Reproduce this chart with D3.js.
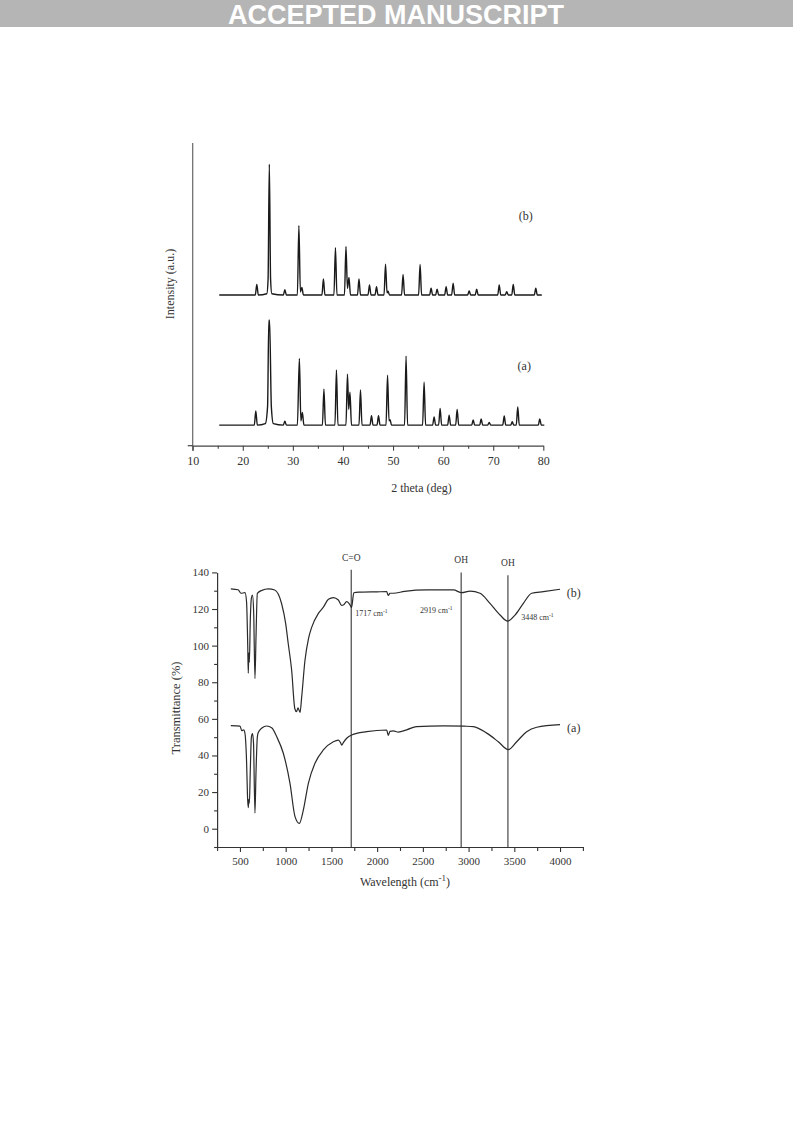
<!DOCTYPE html>
<html>
<head>
<meta charset="utf-8">
<script src="https://cdn.jsdelivr.net/npm/d3@7"></script>
<style>
  html, body { margin: 0; padding: 0; background: #fff; }
  svg { display: block; }
  text { font-family: "Liberation Serif", "DejaVu Serif", serif; fill: #333; }
</style>
</head>
<body>
<svg id="chart" width="793" height="1123"></svg>
<script>
// ---------------- DATA ----------------
// XRD: 2 theta (deg) vs intensity (a.u.)
const xrdTicks = [10, 20, 30, 40, 50, 60, 70, 80];
const xrdMinorTicks = [15, 25, 35, 45, 55, 65, 75];
const xrdA = [
  [15.3,6.8],[22.3,6.8],[22.6,11.5],[22.9,6.8],
  [24.5,7.3],[24.95,13],[25.2,41.5],[25.35,41.5],[25.7,13],[26.1,7.3],
  [28.1,6.8],[28.4,8.1],[28.7,6.8],
  [30.9,6.8],[31.3,28.8],[31.6,8.2],[31.9,11.0],[32.2,6.8],
  [35.9,6.8],[36.2,18.7],[36.5,6.8],
  [38.4,6.8],[38.7,25.0],[39.0,6.8],
  [40.6,6.8],[40.9,23.6],[41.15,12],[41.4,17.7],[41.7,6.8],
  [43.2,6.8],[43.5,18.4],[43.8,6.8],
  [45.4,6.8],[45.7,9.9],[46.0,6.8],
  [46.8,6.8],[47.1,9.9],[47.4,6.8],
  [48.6,6.8],[48.9,23.3],[49.2,8.2],[49.4,8.6],[49.7,6.8],
  [52.3,6.8],[52.6,29.6],[52.9,6.8],
  [55.9,6.8],[56.2,21.0],[56.5,6.8],
  [57.9,6.8],[58.2,9.5],[58.5,6.8],
  [59.1,6.8],[59.4,12.3],[59.7,6.8],
  [60.9,6.8],[61.2,10.1],[61.5,6.8],
  [62.5,6.8],[62.8,12.0],[63.1,6.8],
  [65.7,6.8],[66.0,8.5],[66.3,6.8],
  [67.3,6.8],[67.6,8.8],[67.9,6.8],
  [68.9,6.8],[69.2,7.7],[69.5,6.8],
  [71.9,6.8],[72.2,9.8],[72.5,6.8],
  [73.5,6.8],[73.8,7.9],[74.1,6.8],
  [74.6,6.8],[74.9,12.8],[75.2,6.8],
  [79.0,6.8],[79.3,8.8],[79.6,6.8],[80.2,6.8]
];
const xrdB = [
  [15.3,49.8],[22.5,49.8],[22.8,53.3],[23.1,49.8],
  [24.8,50.2],[25.05,55],[25.3,93.0],[25.55,55],[25.8,50.2],
  [28.1,49.8],[28.4,51.5],[28.7,49.8],
  [30.9,49.8],[31.2,72.7],[31.5,50.8],[31.8,52.3],[32.1,49.8],
  [35.8,49.8],[36.1,55.1],[36.4,49.8],
  [38.2,49.8],[38.5,65.4],[38.8,49.8],
  [40.3,49.8],[40.6,65.8],[40.9,52],[41.2,55.6],[41.5,49.8],
  [42.9,49.8],[43.2,55.1],[43.5,49.8],
  [45.0,49.8],[45.3,53.1],[45.6,49.8],
  [46.4,49.8],[46.7,52.5],[47.0,49.8],
  [48.2,49.8],[48.5,60.0],[48.8,50.5],[49.0,51],[49.3,49.8],
  [51.7,49.8],[52.0,56.6],[52.3,49.8],
  [55.1,49.8],[55.4,59.9],[55.7,49.8],
  [57.3,49.8],[57.6,52.0],[57.9,49.8],
  [58.5,49.8],[58.8,51.7],[59.1,49.8],
  [60.3,49.8],[60.6,52.5],[60.9,49.8],
  [61.7,49.8],[62.0,53.7],[62.3,49.8],
  [64.9,49.8],[65.2,51.1],[65.5,49.8],
  [66.4,49.8],[66.7,51.7],[67.0,49.8],
  [70.9,49.8],[71.2,53.1],[71.5,49.8],
  [72.4,49.8],[72.7,50.9],[73.0,49.8],
  [73.7,49.8],[74.0,53.3],[74.3,49.8],
  [78.2,49.8],[78.5,52.0],[78.8,49.8],[79.7,49.8]
];
const xrdSeriesLabels = [["(b)", 76.5, 76], ["(a)", 76.2, 26.5]];

// FTIR: wavenumber (cm-1) vs transmittance (%)
const ftirXTicks = [500, 1000, 1500, 2000, 2500, 3000, 3500, 4000];
const ftirXMinor = [250, 750, 1250, 1750, 2250, 2750, 3250, 3750, 4250];
const ftirYTicks = [0, 20, 40, 60, 80, 100, 120, 140];
const ftirYMinor = [-10, 10, 30, 50, 70, 90, 110, 130];
const ftirB = [
  [400,131],[480,130.5],[511,128.6],[555,128.9],[572,124],[585,100],[591,85],[597,96],[603,91],
  [612,112],[625,126],[637,127.6],[650,118],[664,82],[676,106],[690,128.5],[740,130.2],
  [810,131],[880,130.4],[955,123],[1000,112],[1028,101],[1065,86.7],[1100,65.5],[1118,63.9],
  [1135,66],[1157,63.5],[1175,72],[1211,92],[1250,104],[1284,110],[1357,117.6],[1412,121],
  [1467,125.3],[1521,126.2],[1576,124.9],[1610,122],[1631,122.2],[1667,124],[1700,122.5],
  [1720,120.8],[1745,128.9],[1800,129.2],[2000,129.4],[2104,129.5],[2122,127.4],[2140,128.6],
  [2177,128.6],[2300,129.6],[2542,130.4],[2834,130.4],[2925,128.9],[3016,129.8],[3125,128.6],
  [3234,123.1],[3344,116.7],[3428,113.4],[3508,116.7],[3599,123.1],[3690,128.6],[3818,129.5],
  [4000,130.8]
];
const ftirA = [
  [400,56.3],[500,56],[520,53.5],[540,54],[555,52],[570,40],[585,15],[591,11.5],[597,16],
  [603,14],[612,30],[625,50],[637,52],[648,47],[664,8.5],[675,30],[690,50],[700,52.5],
  [740,55],[792,56.1],[850,55],[901,50.3],[974,41.2],[1047,24.8],[1102,6.6],[1149,2.9],
  [1193,10.2],[1248,24.8],[1320,35.7],[1412,43],[1521,47.5],[1576,48.4],[1600,47],
  [1613,45.7],[1630,47],[1667,49.4],[1722,51.2],[1886,53],[2104,53.9],[2115,52],[2122,51],
  [2140,53.2],[2177,53.4],[2231,52.8],[2323,54],[2432,55.8],[2723,56.2],[2950,56],
  [3052,55.8],[3198,52.2],[3325,47.5],[3434,43.2],[3526,47.5],[3635,53],[3745,55.4],
  [4000,56.8]
];
const ftirLines = [1717, 2919, 3430];
const ftirLineTops = [141.5, 140, 138.5];
const ftirLineNames = ["C=O", "OH", "OH"];
const ftirPeakLabels = [["1717 cm", 1760, 117.5], ["2919 cm", 2470, 119.5], ["3448 cm", 3575, 115.5]];
const ftirSeriesLabels = [["(b)", 4150, 128.9], ["(a)", 4150, 55]];

// ---------------- DRAW ----------------
const svg = d3.select("#chart");

// banner
svg.append("rect").attr("x", 0).attr("y", 0).attr("width", 793).attr("height", 27).attr("fill", "#b5b5b5");
svg.append("text").attr("x", 396).attr("y", 24).attr("text-anchor", "middle")
  .style("font-family", "'Liberation Sans', Arial, sans-serif").style("font-weight", "bold")
  .style("font-size", "27px").style("fill", "#fff").text("ACCEPTED MANUSCRIPT");

// ===== XRD =====
const xX = d3.scaleLinear().domain([10, 80]).range([192.7, 543.3]);
const xY = d3.scaleLinear().domain([0, 100]).range([445.7, 143]);
const gX = svg.append("g");

gX.append("line").attr("x1", xX(10)).attr("x2", xX(10)).attr("y1", xY(100)).attr("y2", xY(0) + 5)
  .attr("stroke", "#666").attr("stroke-width", 1.2);
const xrdAxis = gX.append("g").attr("transform", `translate(0,${xY(0)})`)
  .call(d3.axisBottom(xX).tickValues(xrdTicks).tickSize(5).tickSizeOuter(0).tickPadding(6).tickFormat(d3.format("d")));
gX.append("g").attr("transform", `translate(0,${xY(0)})`)
  .call(d3.axisBottom(xX).tickValues(xrdMinorTicks).tickSize(3).tickSizeOuter(0).tickFormat(""))
  .select(".domain").remove();
gX.append("line").attr("x1", xX(10) - 5).attr("x2", xX(10)).attr("y1", xY(0)).attr("y2", xY(0))
  .attr("stroke", "#444").attr("stroke-width", 1.2);
gX.selectAll(".domain").attr("stroke", "#444").attr("stroke-width", 1.2);
gX.selectAll(".tick line").attr("stroke", "#444").attr("stroke-width", 1.1);
xrdAxis.selectAll("text").style("font-size", "12px").style("font-family", "'Liberation Serif', serif").attr("fill", "#333");

const xrdLine = d3.line().x(d => xX(d[0])).y(d => xY(d[1])).curve(d3.curveMonotoneX);
[xrdA, xrdB].forEach(s => {
  gX.append("path").datum(s).attr("d", xrdLine).attr("fill", "none")
    .attr("stroke", "#1a1a1a").attr("stroke-width", 1.4).attr("stroke-linejoin", "round");
});
xrdSeriesLabels.forEach(([t, x, y]) => {
  gX.append("text").attr("x", xX(x)).attr("y", xY(y)).attr("text-anchor", "middle")
    .attr("dy", "0.35em").style("font-size", "12px").text(t);
});
gX.append("text").attr("x", 421.5).attr("y", 492).attr("text-anchor", "middle")
  .style("font-size", "12px").text("2 theta (deg)");
gX.append("text").attr("transform", "translate(174,284) rotate(-90)").attr("text-anchor", "middle")
  .style("font-size", "12px").text("Intensity (a.u.)");

// ===== FTIR =====
const fX = d3.scaleLinear().domain([250, 4250]).range([217.1, 582.9]);
const fY = d3.scaleLinear().domain([-10, 140]).range([847, 572.4]);
const gF = svg.append("g");

gF.append("g").attr("transform", `translate(0,${fY(-10)})`)
  .call(d3.axisBottom(fX).tickValues(ftirXTicks).tickSize(5).tickSizeOuter(0).tickPadding(5).tickFormat(d3.format("d")));
gF.append("g").attr("transform", `translate(0,${fY(-10)})`)
  .call(d3.axisBottom(fX).tickValues(ftirXMinor).tickSize(4).tickSizeOuter(0).tickFormat(""))
  .select(".domain").remove();
gF.append("g").attr("transform", `translate(${fX(250)},0)`)
  .call(d3.axisLeft(fY).tickValues(ftirYTicks).tickSize(5).tickSizeOuter(0).tickPadding(3).tickFormat(d3.format("d")));
gF.append("g").attr("transform", `translate(${fX(250)},0)`)
  .call(d3.axisLeft(fY).tickValues(ftirYMinor).tickSize(3).tickSizeOuter(0).tickFormat(""))
  .select(".domain").remove();
gF.selectAll(".domain").attr("stroke", "#333").attr("stroke-width", 1.2);
gF.selectAll(".tick line").attr("stroke", "#333").attr("stroke-width", 1.1);
gF.selectAll(".tick text").style("font-size", "11px").style("font-family", "'Liberation Serif', serif").attr("fill", "#333");

ftirLines.forEach((v, i) => {
  gF.append("line").attr("x1", fX(v)).attr("x2", fX(v)).attr("y1", fY(ftirLineTops[i])).attr("y2", fY(-10))
    .attr("stroke", "#555").attr("stroke-width", 1.3);
  gF.append("text").attr("x", fX(v)).attr("y", fY(ftirLineTops[i]) - 9).attr("text-anchor", "middle")
    .style("font-size", "9.5px").text(ftirLineNames[i]);
});

const ftirLine = d3.line().x(d => fX(d[0])).y(d => fY(d[1])).curve(d3.curveMonotoneX);
[ftirB, ftirA].forEach(s => {
  gF.append("path").datum(s).attr("d", ftirLine).attr("fill", "none")
    .attr("stroke", "#2a2a2a").attr("stroke-width", 1.2).attr("stroke-linejoin", "round");
});

ftirPeakLabels.forEach(([t, x, y]) => {
  const tx = gF.append("text").attr("x", fX(x)).attr("y", fY(y)).attr("text-anchor", "start")
    .attr("dy", "0.35em").style("font-size", "8px");
  tx.append("tspan").text(t);
  tx.append("tspan").attr("dy", "-3").style("font-size", "5.5px").text("-1");
});
ftirSeriesLabels.forEach(([t, x, y]) => {
  gF.append("text").attr("x", fX(x)).attr("y", fY(y)).attr("text-anchor", "middle")
    .attr("dy", "0.35em").style("font-size", "12px").text(t);
});

const xl = gF.append("text").attr("x", 405).attr("y", 886).attr("text-anchor", "middle").style("font-size", "12px");
xl.append("tspan").text("Wavelength (cm");
xl.append("tspan").attr("dy", "-5").style("font-size", "9px").text("-1");
xl.append("tspan").attr("dy", "5").text(")");
gF.append("text").attr("transform", "translate(180,708) rotate(-90)").attr("text-anchor", "middle")
  .style("font-size", "12.5px").text("Transmittance (%)");
</script>
</body>
</html>
